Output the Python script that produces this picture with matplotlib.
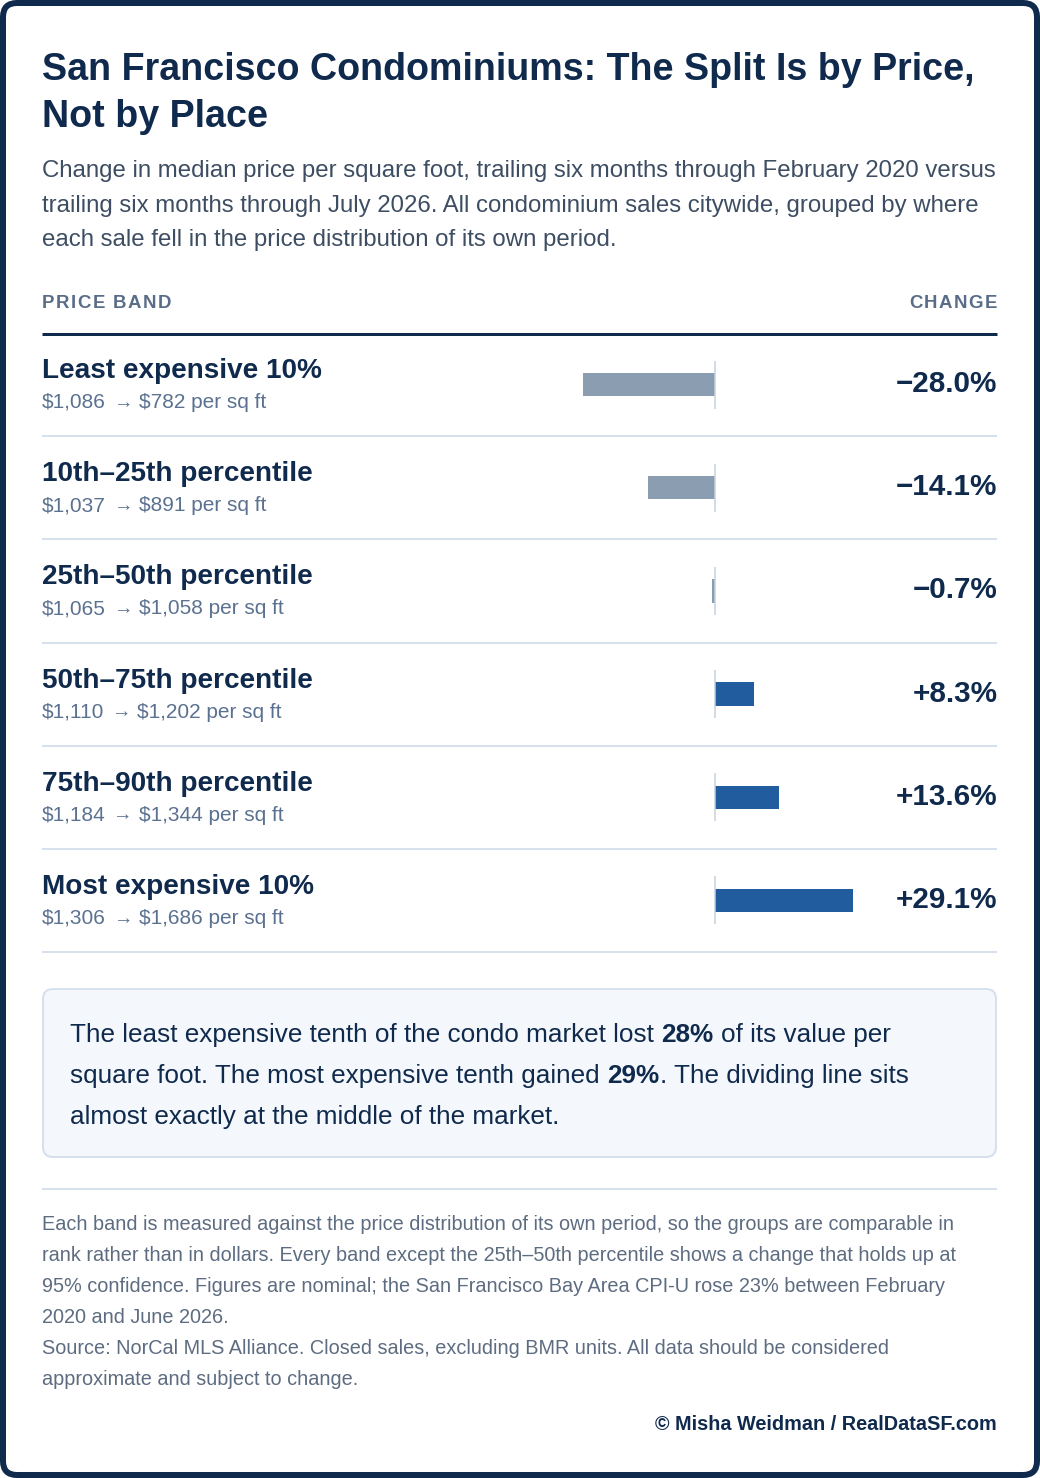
import matplotlib
matplotlib.use('Agg')
import matplotlib.pyplot as plt
from matplotlib.patches import FancyBboxPatch

plt.rcParams['font.family'] = ['Liberation Sans', 'DejaVu Sans']

# --- datos ---
bands = ['Least expensive 10%', '10th\u201325th percentile', '25th\u201350th percentile',
         '50th\u201375th percentile', '75th\u201390th percentile', 'Most expensive 10%']
price_before = [1086, 1037, 1065, 1110, 1184, 1306]
price_after = [782, 891, 1058, 1202, 1344, 1686]
change_pct = [-28.0, -14.1, -0.7, 8.3, 13.6, 29.1]

title_lines = ['San Francisco Condominiums: The Split Is by Price,', 'Not by Place']
subtitle_lines = [
    'Change in median price per square foot, trailing six months through February 2020 versus',
    'trailing six months through July 2026. All condominium sales citywide, grouped by where',
    'each sale fell in the price distribution of its own period.',
]
callout_lines = [
    [('The least expensive tenth of the condo market lost ', 'normal'), ('28%', 'bold'),
     (' of its value per', 'normal')],
    [('square foot. The most expensive tenth gained ', 'normal'), ('29%', 'bold'),
     ('. The dividing line sits', 'normal')],
    [('almost exactly at the middle of the market.', 'normal')],
]
note_lines = [
    'Each band is measured against the price distribution of its own period, so the groups are comparable in',
    'rank rather than in dollars. Every band except the 25th\u201350th percentile shows a change that holds up at',
    '95% confidence. Figures are nominal; the San Francisco Bay Area CPI-U rose 23% between February',
    '2020 and June 2026.',
    'Source: NorCal MLS Alliance. Closed sales, excluding BMR units. All data should be considered',
    'approximate and subject to change.',
]
credit = '\u00a9 Misha Weidman / RealDataSF.com'

# --- colores ---
NAVY = '#0f2a4c'
SLATE = '#3d4d62'
MUTED = '#5b7190'
HEAD = '#5a6d88'
NOTE = '#5d6c80'
RULE = '#d6e1ed'
NEG = '#8b9db1'
POS = '#215d9e'

W, H = 1040, 1478
fig = plt.figure(figsize=(W / 100, H / 100), dpi=100)
ax = fig.add_axes([0, 0, 1, 1])
ax.set_xlim(0, W)
ax.set_ylim(H, 0)
ax.axis('off')
renderer = fig.canvas.get_renderer()

LEFT, RIGHT = 42, 997
ROW_TOP, ROW_BOT = 333, 952
row_h = (ROW_BOT - ROW_TOP) / len(bands)


def text_w(s, size, weight='normal'):
    t = ax.text(0, 0, s, fontsize=size, fontweight=weight)
    w = t.get_window_extent(renderer).width
    t.remove()
    return w


def draw_runs(x, y, runs, size, color):
    # runs: lista de (texto, peso); los espacios de los bordes se miden aparte
    for s, weight in runs:
        lead = len(s) - len(s.lstrip(' '))
        trail = len(s) - len(s.rstrip(' '))
        sp = text_w('a a', size, weight) - text_w('aa', size, weight)
        x += lead * sp
        core = s.strip(' ')
        t = ax.text(x, y, core, fontsize=size, fontweight=weight, color=color, va='baseline')
        x = t.get_window_extent(renderer).x1 + trail * sp
    return x


def spaced(x, y, s, size, color, spacing, ha='left'):
    # texto con letter-spacing, letra a letra
    total = text_w(s + 'X', size, 'bold') - text_w('X', size, 'bold') + spacing * (len(s) - 1)
    if ha == 'right':
        x = x - total
    for i, ch in enumerate(s):
        off = text_w(s[:i] + 'X', size, 'bold') - text_w('X', size, 'bold') if i else 0
        ax.text(x + off + i * spacing, y, ch, fontsize=size, fontweight='bold', color=color, va='baseline')


# marco redondeado
ax.add_patch(FancyBboxPatch((3, 3), W - 6, H - 6, boxstyle='round,pad=0,rounding_size=14',
                            fc='white', ec=NAVY, lw=6 * 0.72, zorder=0))

# titulo y subtitulo
for i, line in enumerate(title_lines):
    ax.text(LEFT, 80 + i * 47, line, fontsize=27.1, fontweight='bold', color=NAVY, va='baseline')
for i, line in enumerate(subtitle_lines):
    ax.text(LEFT, 177 + i * 34.7, line, fontsize=17.3, color=SLATE, va='baseline')

# cabecera de la tabla
spaced(LEFT, 308.5, 'PRICE BAND', 13.4, HEAD, 1.5)
spaced(RIGHT, 308.5, 'CHANGE', 13.4, HEAD, 1.5, ha='right')
ax.plot([LEFT, RIGHT], [ROW_TOP + 0.5, ROW_TOP + 0.5], color=NAVY, lw=3 * 0.72, solid_capstyle='butt')

# filas
for i, band in enumerate(bands):
    top = ROW_TOP + i * row_h
    ax.text(LEFT, top + 45, band, fontsize=20.1, fontweight='bold', color=NAVY, va='baseline')
    sub_y = top + 75
    x_end = draw_runs(LEFT, sub_y, [(f'${price_before[i]:,}', 'normal')], 15, MUTED)
    ax.text(x_end + 16.5, sub_y, '\u2192', fontsize=14, color=MUTED, va='baseline', ha='center')
    draw_runs(x_end + 33, sub_y, [(f'${price_after[i]:,} per sq ft', 'normal')], 15, MUTED)
    val = f'{change_pct[i]:+.1f}%'.replace('-', '\u2212')
    ax.text(RIGHT + 0.5, top + 59, val, fontsize=21.3, fontweight='bold', color=NAVY,
            va='baseline', ha='right')
    sep_y = top + row_h
    ax.plot([LEFT, RIGHT], [sep_y, sep_y], color=RULE, lw=2 * 0.72, solid_capstyle='butt')

# barras: eje propio con escala en %
ZERO_X, PX_PER_PCT = 715, 4.73
bx0, bx1 = 560, 880
bax = fig.add_axes([bx0 / W, 1 - ROW_BOT / H, (bx1 - bx0) / W, (ROW_BOT - ROW_TOP) / H])
bax.set_xlim((bx0 - ZERO_X) / PX_PER_PCT, (bx1 - ZERO_X) / PX_PER_PCT)
bax.set_ylim(len(bands) - 0.5, -0.5)
bax.axis('off')
bax.patch.set_alpha(0)
ypos = list(range(len(bands)))
bar_colors = [NEG if v < 0 else POS for v in change_pct]
bars = bax.barh(ypos, change_pct, height=23.4 / row_h, color=bar_colors, zorder=2)
for b in bars:
    b.set_joinstyle('round')
bax.vlines([0] * len(bands), [y - 24 / row_h for y in ypos], [y + 24 / row_h for y in ypos],
           color='#c5d0dc', lw=1.5 * 0.72, zorder=3)

# recuadro destacado
ax.add_patch(FancyBboxPatch((LEFT + 1, 989), RIGHT - LEFT - 2, 168,
                            boxstyle='round,pad=0,rounding_size=10',
                            fc='#f4f7fb', ec=RULE, lw=2 * 0.72))
for i, runs in enumerate(callout_lines):
    draw_runs(70.5, 1042 + i * 41, runs, 18.8, NAVY)

# notas
ax.plot([LEFT, RIGHT], [1189, 1189], color=RULE, lw=2 * 0.72, solid_capstyle='butt')
for i, line in enumerate(note_lines):
    ax.text(LEFT, 1230 + i * 31, line, fontsize=14.3, color=NOTE, va='baseline')
ax.text(RIGHT, 1430, credit, fontsize=14.3, fontweight='bold', color=NAVY, va='baseline', ha='right')

fig.savefig('out.png', dpi=100)
plt.close()
